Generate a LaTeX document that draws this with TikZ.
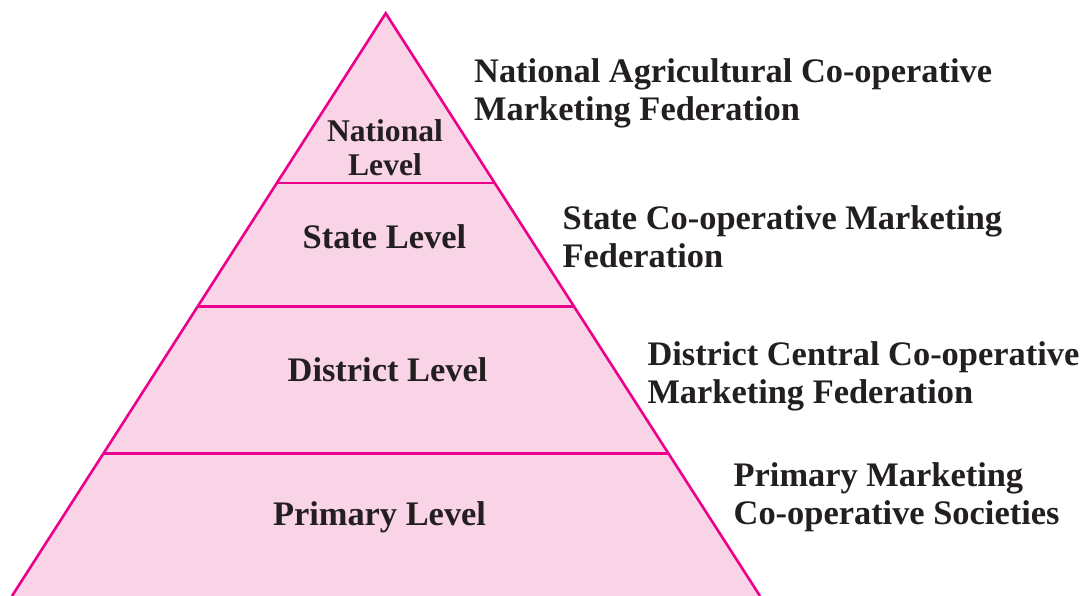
\documentclass[tikz,border=0pt]{standalone}
\usepackage{fontspec}
\setmainfont{Liberation Serif}
\usetikzlibrary{calc}
\definecolor{pinkline}{HTML}{EC008C}
\definecolor{pinkfill}{HTML}{F9D3E6}
\definecolor{txt}{HTML}{231F20}
\begin{document}
\begin{tikzpicture}[x=1pt,y=-1pt,
  tier/.style={draw=pinkline,line width=2.6pt},
  lvl/.style={inner sep=0pt,text=txt,font=\fontsize{34.4}{38}\selectfont\bfseries,anchor=base},
  desc/.style={inner sep=0pt,text=txt,font=\fontsize{34.4}{38}\selectfont\bfseries,anchor=base west},
  natl/.style={inner sep=0pt,text=txt,font=\fontsize{31.6}{34}\selectfont\bfseries,anchor=base}]
\useasboundingbox (0,0) rectangle (1085,596);
\coordinate (apex) at (385.7,13.3);
\coordinate (bl) at (12,596);
\coordinate (br) at (760,596);
\fill[pinkfill] (apex) -- (bl) -- (br) -- cycle;
\draw[tier,line join=miter] (bl) -- (apex) -- (br);
\coordinate (l1a) at ($(apex)!0.2912!(bl)$);
\coordinate (l1b) at ($(apex)!0.2912!(br)$);
\coordinate (l2a) at ($(apex)!0.5032!(bl)$);
\coordinate (l2b) at ($(apex)!0.5032!(br)$);
\coordinate (l3a) at ($(apex)!0.7551!(bl)$);
\coordinate (l3b) at ($(apex)!0.7551!(br)$);
\draw[tier] (l1a) -- (l1b);
\draw[tier] (l2a) -- (l2b);
\draw[tier] (l3a) -- (l3b);
% level labels
\node[natl] (nat) at (385,141.7) {\begin{tabular}[t]{@{}c@{}}National\\Level\end{tabular}};
\node[lvl] (sta) at (384.4,248.3) {State Level};
\node[lvl] (dis) at (387.5,381) {District Level};
\node[lvl] (pri) at (379.5,525.7) {Primary Level};
% descriptions
\node[desc] (natd) at (474,82.3) {\begin{tabular}[t]{@{}l@{}}National Agricultural Co-operative\\Marketing Federation\end{tabular}};
\node[desc] (stad) at (562.5,230) {\begin{tabular}[t]{@{}l@{}}State Co-operative Marketing\\Federation\end{tabular}};
\node[desc] (disd) at (647.3,365) {\begin{tabular}[t]{@{}l@{}}District Central Co-operative\\Marketing Federation\end{tabular}};
\node[desc] (prid) at (733.5,486.7) {\begin{tabular}[t]{@{}l@{}}Primary Marketing\\Co-operative Societies\end{tabular}};
\end{tikzpicture}
\end{document}
